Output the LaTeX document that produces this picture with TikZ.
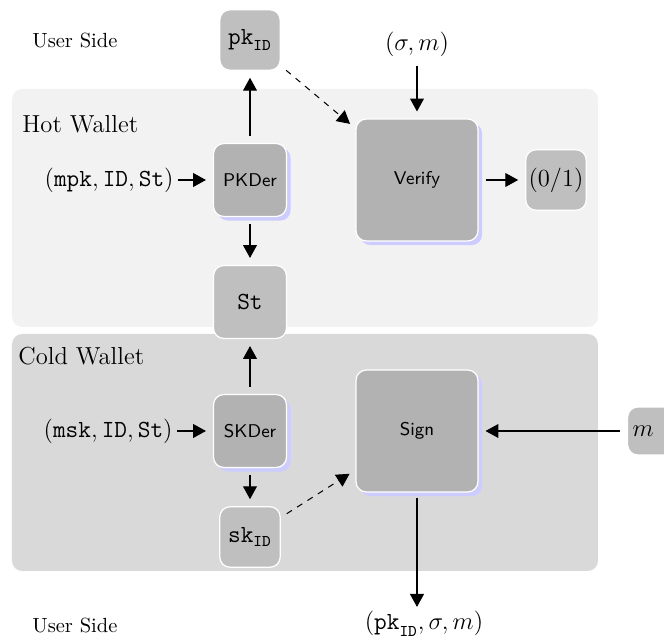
\documentclass[tikz,border=0pt]{standalone}
\usetikzlibrary{arrows.meta,shadows}
\begin{document}
\begin{tikzpicture}[
  x=0.488pt, y=-0.488pt,
  region/.style={rounded corners=5pt, draw=none},
  procbox/.style={draw=white, line width=0.6pt, fill=black!30, rounded corners=5pt,
    minimum width=35.6pt, minimum height=35.6pt, font=\sffamily\small,
    drop shadow={shadow xshift=2pt, shadow yshift=-2pt, fill=blue!20, opacity=1}},
  bigbox/.style={procbox, minimum width=59.5pt, minimum height=59.5pt},
  valbox/.style={draw=white, line width=0.6pt, fill=black!25, rounded corners=5pt,
    minimum width=29.5pt, minimum height=29.5pt, inner sep=1pt, font=\large},
  lbl/.style={inner sep=0pt, font=\large},
  note/.style={inner sep=0pt},
  heading/.style={inner sep=0pt, font=\large},
  flow/.style={line width=0.5pt, -{Triangle[length=6.3pt,width=6.8pt]},
    shorten >=3.4pt, shorten <=3.4pt}
]
\useasboundingbox (0,0) rectangle (664,639);

% wallet regions
\fill[region, black!5]  (12,89)  rectangle (598,327);
\fill[region, black!15] (12,334) rectangle (598,571);

% region titles and side captions
\node[note, anchor=base west] (ustop) at (32,48) {User Side};
\node[note, anchor=base west] (usbot) at (32,633) {User Side};
\node[heading, anchor=base west] (hot) at (22,133) {Hot Wallet};
\node[heading, anchor=base west] (cold) at (18,365) {Cold Wallet};

% algorithm boxes
\node[procbox] (pkder) at (250,180) {PKDer};
\node[procbox] (skder) at (250,431) {SKDer};
\node[bigbox] (verify) at (417,180) {Verify};
\node[bigbox] (sign) at (417,431) {Sign};

% value boxes
\node[valbox] (pk) at (250,40) {$\mathtt{pk}_{\mathtt{ID}}$};
\node[valbox, minimum width=35.6pt, minimum height=35.6pt] (st) at (250,302) {$\mathtt{St}$};
\node[valbox] (sk) at (250,537) {$\mathtt{sk}_{\mathtt{ID}}$};
\node[valbox] (bit) at (556,180) {$(0/1)$};
\node[valbox, anchor=west, minimum height=23.4pt, inner xsep=2.4pt,
      text width=25pt, align=left] (msg) at (627,431) {$m$};

% free inputs and outputs
\node[lbl, anchor=base] (sigm) at (417,51) {$(\sigma,m)$};
\node[lbl, anchor=east] (mpkin) at (174,180) {$(\mathtt{mpk},\mathtt{ID},\mathtt{St})$};
\node[lbl, anchor=east] (mskin) at (173,431) {$(\mathtt{msk},\mathtt{ID},\mathtt{St})$};
\node[lbl, anchor=north] (out) at (424,611) {$(\mathtt{pk}_{\mathtt{ID}},\sigma,m)$};

% connectors
\draw[flow] (pkder) -- (pk);
\draw[flow] (pkder) -- (st);
\draw[flow] (skder) -- (st);
\draw[flow] (skder) -- (sk);
\draw[flow, shorten <=2pt] (mpkin) -- (pkder);
\draw[flow, shorten <=2pt] (mskin) -- (skder);
\draw[flow, dashed] (pk) -- (verify);
\draw[flow, dashed] (sk) -- (sign);
\draw[flow, shorten <=4pt] (sigm) -- (verify);
\draw[flow] (verify) -- (bit);
\draw[flow] (msg) -- (sign);
\draw[flow, shorten <=2.5pt, shorten >=2pt] (sign) -- (sign |- out.north);
\end{tikzpicture}
\end{document}
